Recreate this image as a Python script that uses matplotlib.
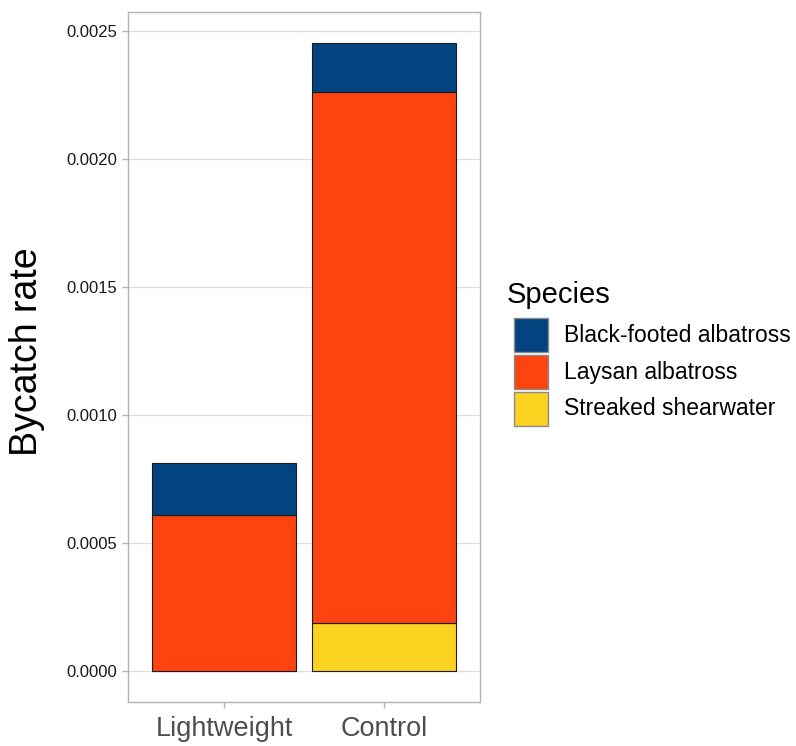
import matplotlib
matplotlib.use("Agg")
import matplotlib.pyplot as plt
from matplotlib.patches import Rectangle
import numpy as np

plt.rcParams['font.family'] = ['Liberation Sans', 'DejaVu Sans']

categories = ["Lightweight", "Control"]
species = ["Black-footed albatross", "Laysan albatross", "Streaked shearwater"]
# values per category (Lightweight, Control)
streaked = [0.0, 0.000186]
laysan = [0.000607, 0.002077]
blackfooted = [0.000205, 0.000190]
colors = {"Black-footed albatross": "#03437F",
          "Laysan albatross": "#FD4410",
          "Streaked shearwater": "#FCD220"}
yticks = [0.0, 0.0005, 0.0010, 0.0015, 0.0020, 0.0025]

W, H = 796, 746
fig = plt.figure(figsize=(W/100, H/100), dpi=100)
ax = fig.add_axes([128/W, 1-702/H, 352/W, 690/H])

x = np.arange(1, len(categories)+1)
w = 0.9
bottom = np.zeros(len(categories))
for name, vals in [("Streaked shearwater", streaked), ("Laysan albatross", laysan),
                   ("Black-footed albatross", blackfooted)]:
    vals = np.array(vals)
    ax.bar(x, vals, width=w, bottom=bottom, color=colors[name], edgecolor="#1a1a1a",
           linewidth=0.8, zorder=3)
    bottom = bottom + vals

total = bottom.max()
ax.set_xlim(0.4, 2.6)
ax.set_ylim(-0.05*total, total*1.05)
ax.set_xticks(x)
ax.set_xticklabels(categories, fontsize=19.5, color="#4D4D4D")
ax.set_yticks(yticks)
ax.set_yticklabels([f"{v:.4f}" for v in yticks], fontsize=12, color="#1a1a1a")
ax.tick_params(axis='both', length=4, color="#B3B3B3", width=1)
ax.tick_params(axis='x', pad=6)
ax.grid(axis='y', color="#DEDEDE", linewidth=1, zorder=0)
ax.set_axisbelow(True)
for s in ax.spines.values():
    s.set_color("#B3B3B3")
    s.set_linewidth(1)

ax.set_ylabel("Bycatch rate", fontsize=27, color="black")
ax.yaxis.set_label_coords(-0.236, 0.507)

# Legend (drawn manually for exact key sizing)
fig.text(507/W, 1-295/H, "Species", fontsize=21, va='center', ha='left')
key_x, key_w, key_h, pitch, top0 = 513.5, 34, 34, 36.8, 318.3
for i, s in enumerate(species):
    ytop = top0 + i*pitch
    fig.add_artist(Rectangle((key_x/W, 1-(ytop+key_h)/H), key_w/W, key_h/H,
                             transform=fig.transFigure, facecolor=colors[s],
                             edgecolor="#8a8a8a", linewidth=1))
    fig.text(564/W, 1-(ytop+key_h/2)/H, s, fontsize=16.5, va='center', ha='left')

fig.savefig("out.png", dpi=100)
